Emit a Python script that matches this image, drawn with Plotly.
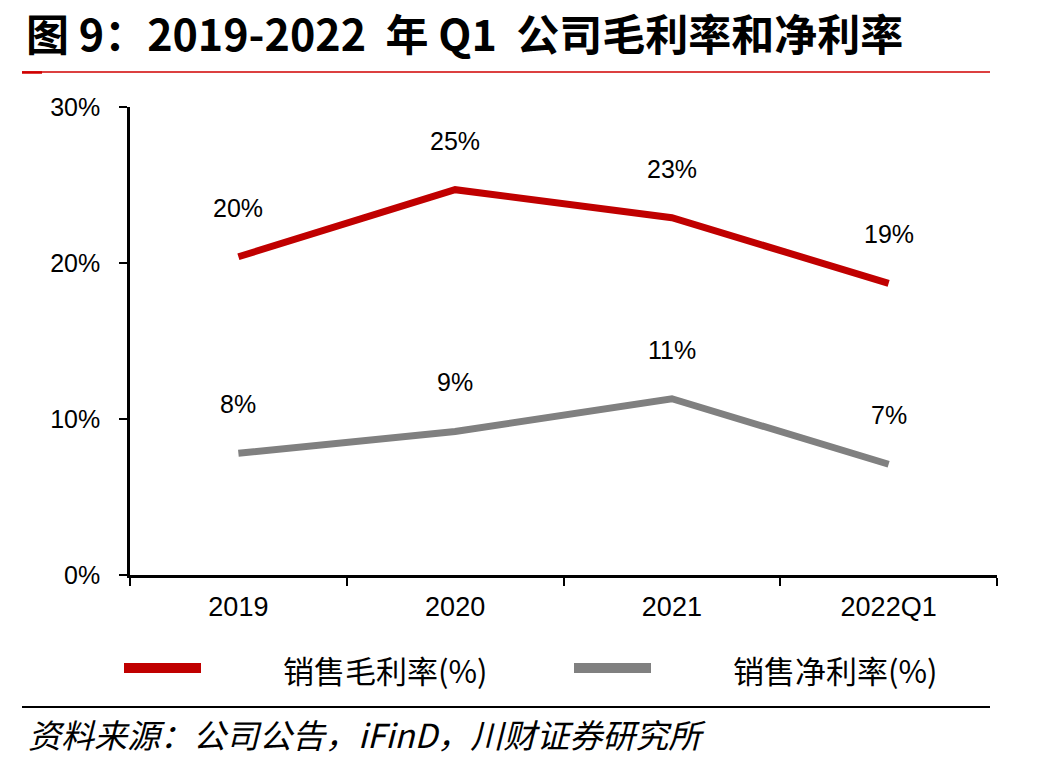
import plotly.graph_objects as go

categories = ["2019", "2020", "2021", "2022Q1"]
gross_margin = [20.4, 24.7, 22.9, 18.7]
net_margin = [7.8, 9.2, 11.3, 7.1]
y_ticks = [0, 10, 20, 30]
y_tick_labels = ["0%", "10%", "20%", "30%"]
series_names = ["销售毛利率(%)", "销售净利率(%)"]
colors = ["#C00000", "#808080"]

W, H = 1060, 763
L, R, T, B = 130, 997, 107, 575

def px(x):
    return (x - L) / (R - L)

def py(y):
    return (B - y) / (B - T)

CJK = "Noto Sans CJK SC"
SANS = "Liberation Sans"

fig = go.Figure()
for vals, name, c in zip([gross_margin, net_margin], series_names, colors):
    fig.add_trace(go.Scatter(
        x=categories, y=vals, mode="lines", name=name,
        line=dict(color=c, width=7), showlegend=False,
        hoverinfo="skip",
    ))
    for i, v in enumerate(vals):
        fig.add_annotation(
            x=i, y=v, xref="x", yref="y", text=f"{v:.0f}%", showarrow=False,
            yshift=49, font=dict(family=SANS, size=25, color="black"),
        )

# title
fig.add_annotation(
    xref="paper", yref="paper", x=px(24), y=py(32), xanchor="left", yanchor="middle",
    text="<b>图 9：2019-2022&nbsp; 年 Q1&nbsp; 公司毛利率和净利率</b>", showarrow=False,
    font=dict(family=CJK, size=43, color="black"),
)
# title underline
fig.add_shape(type="line", xref="paper", yref="paper",
              x0=px(22), x1=px(990), y0=py(72), y1=py(72),
              line=dict(color="#D00000", width=1.5))
fig.add_shape(type="line", xref="paper", yref="paper",
              x0=px(22), x1=px(42), y0=py(72.5), y1=py(72.5),
              line=dict(color="#D00000", width=2.5))

# legend
legend_pos = [(120, 205, 281), (570, 655, 731)]
for (x0, x1, tx), name, c in zip(legend_pos, series_names, colors):
    fig.add_shape(type="line", xref="paper", yref="paper",
                  x0=px(x0 + 4), x1=px(x1 - 4), y0=py(668), y1=py(668),
                  line=dict(color=c, width=10))
    fig.add_annotation(
        xref="paper", yref="paper", x=px(tx), y=py(669), xanchor="left", yanchor="middle",
        text=name, showarrow=False, font=dict(family=CJK, size=31, color="black"),
    )

# source rule
fig.add_shape(type="line", xref="paper", yref="paper",
              x0=px(22), x1=px(990), y0=py(707), y1=py(707),
              line=dict(color="black", width=2))
fig.add_annotation(
    xref="paper", yref="paper", x=px(26), y=py(734), xanchor="left", yanchor="middle",
    text="<i>资料来源：公司公告，iFinD，川财证券研究所</i>", showarrow=False,
    font=dict(family=CJK, size=33, color="black"),
)

fig.update_layout(
    width=W, height=H,
    margin=dict(l=L, r=W - R, t=T, b=H - B),
    paper_bgcolor="white", plot_bgcolor="white",
    showlegend=False,
)
fig.update_xaxes(
    type="category", range=[-0.5, 3.5],
    showline=True, linecolor="black", linewidth=2.5,
    ticks="outside", tickson="boundaries", ticklen=8, tickwidth=2, tickcolor="black",
    showgrid=False, zeroline=False,
    tickfont=dict(family=SANS, size=27, color="black"),
    ticklabelstandoff=6,
)
fig.update_yaxes(
    range=[0, 30], tickvals=y_ticks, ticktext=y_tick_labels,
    showline=True, linecolor="black", linewidth=2.5,
    ticks="outside", ticklen=8, tickwidth=2, tickcolor="black",
    showgrid=False, zeroline=False,
    tickfont=dict(family=SANS, size=25, color="black"),
    ticklabelstandoff=14,
)

fig.write_html("out.html")
